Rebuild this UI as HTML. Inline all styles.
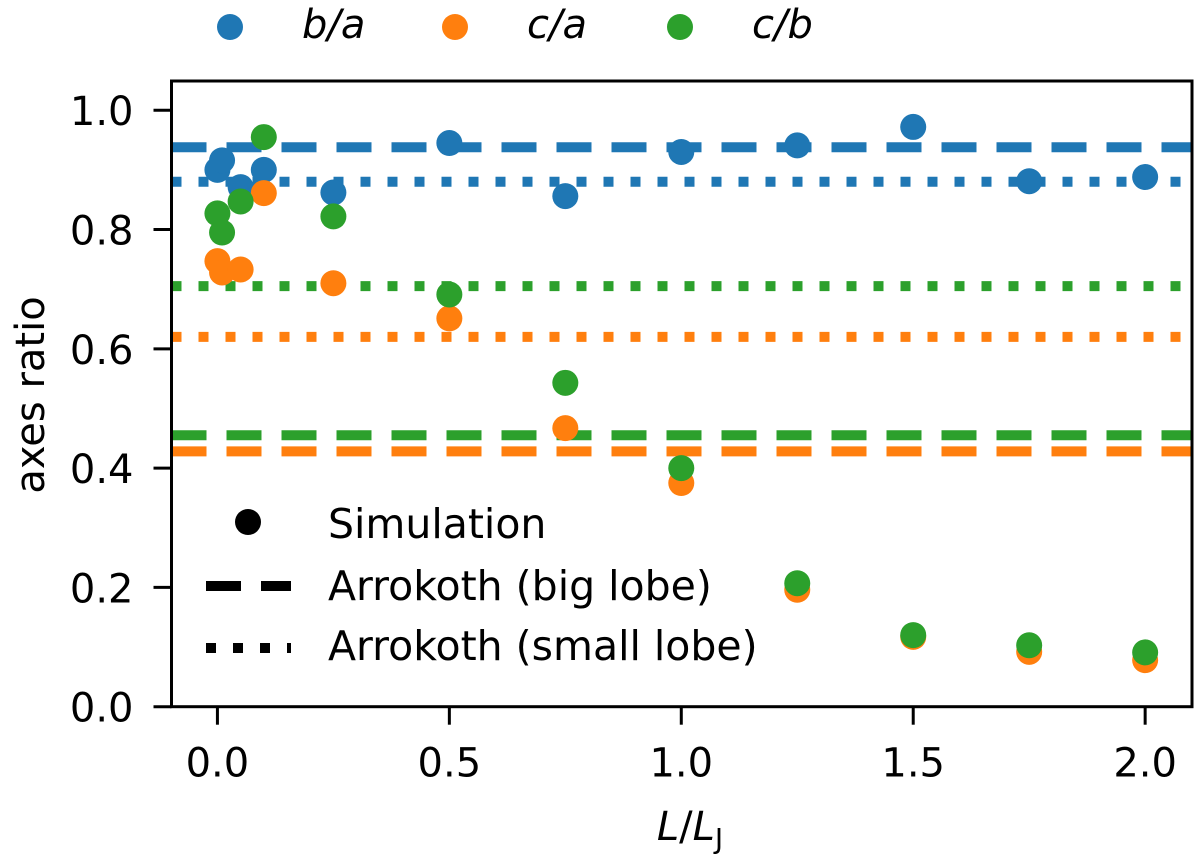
<!DOCTYPE html>
<html><head><meta charset="utf-8"><style>body{margin:0;background:#fff}svg{display:block;font-family:"DejaVu Sans","Liberation Sans",sans-serif}</style></head>
<body>
<svg id="chart" width="1200" height="856"></svg>
<script>
const xs = [0, 0.01, 0.05, 0.1, 0.25, 0.5, 0.75, 1.0, 1.25, 1.5, 1.75, 2.0];
const ba = [0.90, 0.916, 0.871, 0.90, 0.862, 0.945, 0.856, 0.93, 0.941, 0.972, 0.881, 0.888];
const ca = [0.747, 0.728, 0.733, 0.861, 0.71, 0.651, 0.467, 0.375, 0.196, 0.117, 0.092, 0.078];
const cb = [0.827, 0.795, 0.847, 0.955, 0.822, 0.691, 0.543, 0.40, 0.207, 0.12, 0.103, 0.091];
const bigLobe = [0.938, 0.428, 0.455];
const smallLobe = [0.88, 0.62, 0.705];
const xTicks = [0, 0.5, 1.0, 1.5, 2.0];
const yTicks = [0, 0.2, 0.4, 0.6, 0.8, 1.0];
const colors = ['#1f77b4', '#ff7f0e', '#2ca02c'];

const L=171.5,R=1192,T=81,B=706.7;
const X=v=>L+(v+0.099)/(2.2)*(R-L);
const Y=v=>B-v/1.049*(B-T);
const svg=document.getElementById('chart');
const NS='http://www.w3.org/2000/svg';
function mk(tag,attrs,parent){const e=document.createElementNS(NS,tag);for(const k in attrs)e.setAttribute(k,attrs[k]);(parent||svg).appendChild(e);return e;}
function txt(s,attrs){const e=mk('text',attrs);e.textContent=s;return e;}

bigLobe.forEach((v,i)=>{const e=mk('line',{x1:L,x2:R,y1:Y(v),y2:Y(v),stroke:colors[i],'stroke-width':10,'stroke-dasharray':'35 20'});

});
smallLobe.forEach((v,i)=>{const e=mk('line',{x1:L,x2:R,y1:Y(v),y2:Y(v),stroke:colors[i],'stroke-width':10,'stroke-dasharray':'10 17'});

});
[ba,ca,cb].forEach((s,si)=>{s.forEach((v,i)=>{const c=mk('circle',{cx:X(xs[i]),cy:Y(v),r:13,fill:colors[si]});

});});
const f=mk('rect',{x:L,y:T,width:R-L,height:B-T,fill:'none',stroke:'#000','stroke-width':3});


xTicks.forEach(v=>{mk('line',{x1:X(v),x2:X(v),y1:B,y2:B+18,stroke:'#000','stroke-width':3});
const t=txt(v.toFixed(1),{x:X(v),y:B+70,'font-size':40,'text-anchor':'middle'});

});
yTicks.forEach(v=>{mk('line',{x1:L-18,x2:L,y1:Y(v),y2:Y(v),stroke:'#000','stroke-width':3});
const t=txt(v.toFixed(1),{x:L-38,y:Y(v)+15,'font-size':40,'text-anchor':'end'});

});
</script>
<svg width="1200" height="856" style="position:absolute;left:0;top:0">
<text x="44" y="395" font-size="40" text-anchor="middle" transform="rotate(-90 44 395)" font-family="DejaVu Sans, sans-serif">axes ratio</text>
<text x="690" y="840" font-size="40" text-anchor="middle" font-family="DejaVu Sans, sans-serif"><tspan font-style="italic">L</tspan>/<tspan font-style="italic">L</tspan><tspan font-size="28" dy="8">J</tspan></text>
<g font-family="DejaVu Sans, sans-serif" font-size="40" font-style="italic">
<circle cx="230" cy="27" r="13" fill="#1f77b4"/>
<text x="302" y="38">b/a</text>
<circle cx="455" cy="27" r="13" fill="#ff7f0e"/>
<text x="527" y="38">c/a</text>
<circle cx="680" cy="27" r="13" fill="#2ca02c"/>
<text x="752" y="38">c/b</text>
</g>
<g font-family="DejaVu Sans, sans-serif" font-size="41">
<circle cx="248" cy="522" r="13" fill="#000"/>
<text x="328" y="538">Simulation</text>
<line x1="206" x2="291" y1="586" y2="586" stroke="#000" stroke-width="10" stroke-dasharray="35 20"/>
<text x="328" y="600">Arrokoth (big lobe)</text>
<line x1="206" x2="291" y1="648" y2="648" stroke="#000" stroke-width="10" stroke-dasharray="10 17"/>
<text x="328" y="660">Arrokoth (small lobe)</text>
</g>
</svg>
</body></html>
